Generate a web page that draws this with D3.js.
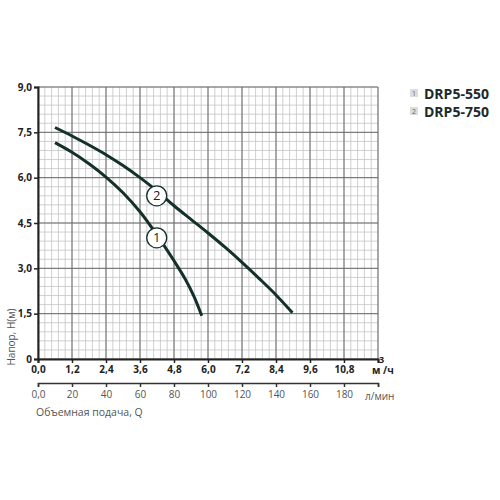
<!DOCTYPE html>
<html lang="ru">
<head>
    <meta charset="UTF-8">
    <title>DRP5</title>
    <script src="https://cdn.jsdelivr.net/npm/d3@7"></script>
    <style>
        body { margin: 0; background: #fff; }
        text { font-family: "Open Sans", "DejaVu Sans", sans-serif; }
    </style>
</head>
<body>
<script>
    // данные с графика
    var seriesNames = ["DRP5-550", "DRP5-750"];
    var q550 = [0.6, 1.2, 1.8, 2.4, 3.0, 3.6, 4.2, 4.8, 5.2, 5.5, 5.78];
    var h550 = [7.16, 6.84, 6.46, 6.02, 5.5, 4.87, 4.1, 3.25, 2.64, 2.08, 1.43];
    var q750 = [0.6, 1.2, 1.8, 2.4, 3.0, 3.6, 4.2, 4.8, 5.4, 6.0, 6.6, 7.2, 7.8, 8.4, 8.98];
    var h750 = [7.66, 7.38, 7.08, 6.76, 6.4, 6.0, 5.56, 5.07, 4.62, 4.17, 3.7, 3.2, 2.67, 2.12, 1.53];
    var markQ = [4.19, 4.19];
    var markH = [4.01, 5.4];
    var qTicks = [0, 1.2, 2.4, 3.6, 4.8, 6.0, 7.2, 8.4, 9.6, 10.8];
    var hTicks = [0, 1.5, 3.0, 4.5, 6.0, 7.5, 9.0];
    var lTicks = [0, 20, 40, 60, 80, 100, 120, 140, 160, 180, 200];

    var width = 500, height = 500;
    var pLeft = 38, pRight = 378, pTop = 87, pBottom = 359;
    var lineColor = "#13302b";

    var svg = d3.select("body").append("svg").attr("width", width).attr("height", height);

    var x = d3.scaleLinear().domain([0, 12]).range([pLeft, pRight]);
    var y = d3.scaleLinear().domain([0, 9]).range([pBottom, pTop]);
    var xl = d3.scaleLinear().domain([0, 200]).range([pLeft, pRight]);

    var fmt = function (v) { return v.toFixed(1).replace(".", ","); };

    // сетка: мелкая
    var minorX = d3.range(0, 51).map(function (i) { return i * 0.24; });
    var minorY = d3.range(0, 31).map(function (i) { return i * 0.3; });
    var grid = svg.append("g");
    grid.selectAll(".vx").data(minorX).enter().append("line")
        .attr("x1", function (d) { return x(d); }).attr("x2", function (d) { return x(d); })
        .attr("y1", pTop).attr("y2", pBottom)
        .attr("stroke", "#c4c4c4").attr("stroke-width", 0.8);
    grid.selectAll(".hy").data(minorY).enter().append("line")
        .attr("y1", function (d) { return y(d); }).attr("y2", function (d) { return y(d); })
        .attr("x1", pLeft).attr("x2", pRight)
        .attr("stroke", "#c4c4c4").attr("stroke-width", 0.8);
    // крупная
    grid.selectAll(".mx").data(qTicks.concat([12])).enter().append("line")
        .attr("x1", function (d) { return x(d); }).attr("x2", function (d) { return x(d); })
        .attr("y1", pTop).attr("y2", pBottom)
        .attr("stroke", "#6a6a6a").attr("stroke-width", 1);
    grid.selectAll(".my").data(hTicks).enter().append("line")
        .attr("y1", function (d) { return y(d); }).attr("y2", function (d) { return y(d); })
        .attr("x1", pLeft).attr("x2", pRight)
        .attr("stroke", "#6a6a6a").attr("stroke-width", 1);

    // ось Y
    var yAxis = d3.axisLeft(y).tickValues(hTicks).tickSize(4)
        .tickFormat(function (d) { return d === 0 ? "0" : fmt(d); });
    var gy = svg.append("g").attr("transform", "translate(" + pLeft + ",0)").call(yAxis);
    gy.select(".domain").attr("stroke", "#222").attr("stroke-width", 2);
    gy.selectAll(".tick line").attr("stroke", "#222").attr("stroke-width", 1.5);
    gy.selectAll("text").attr("font-size", 10).attr("font-weight", "bold").attr("fill", "#222")
        .attr("font-family", "'Open Sans', sans-serif").attr("x", -6);

    // ось X, м3/ч
    var xAxis = d3.axisBottom(x).tickValues(qTicks.concat([12])).tickSize(4)
        .tickFormat(function (d) { return d === 12 ? "" : fmt(d); });
    var gx = svg.append("g").attr("transform", "translate(0," + pBottom + ")").call(xAxis);
    gx.select(".domain").attr("stroke", "#222").attr("stroke-width", 2);
    gx.selectAll(".tick line").attr("stroke", "#222").attr("stroke-width", 1.5);
    gx.selectAll("text").attr("font-size", 10).attr("font-weight", "bold").attr("fill", "#222")
        .attr("font-family", "'Open Sans', sans-serif").attr("y", 7);
    svg.append("text").attr("x", x(12) - 6).attr("y", 374)
        .attr("font-size", 10).attr("font-weight", "bold").attr("fill", "#222").text("м /ч");
    svg.append("text").attr("x", x(12) + 1).attr("y", 363)
        .attr("font-size", 9).attr("font-weight", "bold").attr("fill", "#222").text("3");

    // ось X, л/мин
    var lAxis = d3.axisBottom(xl).tickValues(lTicks).tickSize(4)
        .tickFormat(function (d) { return d === 200 ? "" : (d === 0 ? "0,0" : d); });
    var gl = svg.append("g").attr("transform", "translate(0,383)").call(lAxis);
    gl.select(".domain").attr("stroke", "#333").attr("stroke-width", 1.5);
    gl.selectAll(".tick line").attr("stroke", "#333").attr("stroke-width", 1.5);
    gl.selectAll("text").attr("font-size", 10).attr("fill", "#555")
        .attr("font-family", "'Open Sans', sans-serif").attr("y", 8);
    svg.append("text").attr("x", 365).attr("y", 400)
        .attr("font-size", 10).attr("fill", "#555").text("л/мин");

    // подписи осей
    svg.append("text").attr("transform", "translate(15,337) rotate(-90)")
        .attr("text-anchor", "middle").attr("font-size", 10).attr("fill", "#555")
        .text("Напор, H(м)");
    svg.append("text").attr("x", 36).attr("y", 416)
        .attr("font-size", 10.5).attr("fill", "#555").text("Объемная подача, Q");

    // кривые
    var line = d3.line()
        .x(function (d) { return x(d[0]); })
        .y(function (d) { return y(d[1]); })
        .curve(d3.curveCatmullRom.alpha(0.5));
    var curves = [d3.zip(q550, h550), d3.zip(q750, h750)];
    svg.selectAll(".curve").data(curves).enter().append("path")
        .attr("d", line).attr("fill", "none")
        .attr("stroke", lineColor).attr("stroke-width", 3);

    // метки номеров
    var marks = svg.selectAll(".mark").data(markQ).enter().append("g")
        .attr("transform", function (d, i) { return "translate(" + x(d) + "," + y(markH[i]) + ")"; });
    marks.append("circle").attr("r", 10).attr("fill", "#fff")
        .attr("stroke", lineColor).attr("stroke-width", 1.3);
    marks.append("text").attr("text-anchor", "middle").attr("dy", "0.36em")
        .attr("font-size", 13).attr("fill", "#222")
        .text(function (d, i) { return i + 1; });

    // легенда
    var leg = svg.selectAll(".leg").data(seriesNames).enter().append("g")
        .attr("transform", function (d, i) { return "translate(410," + (89 + i * 18) + ")"; });
    leg.append("rect").attr("width", 8).attr("height", 8).attr("fill", "#dcdcdc");
    leg.append("text").attr("x", 4).attr("y", 7).attr("text-anchor", "middle")
        .attr("font-size", 7).attr("fill", "#666").text(function (d, i) { return i + 1; });
    leg.append("text").attr("x", 14).attr("y", 9.5)
        .attr("font-size", 14).attr("font-weight", "bold").attr("fill", "#1c2a2a")
        .text(function (d) { return d; });
</script>
</body>
</html>
